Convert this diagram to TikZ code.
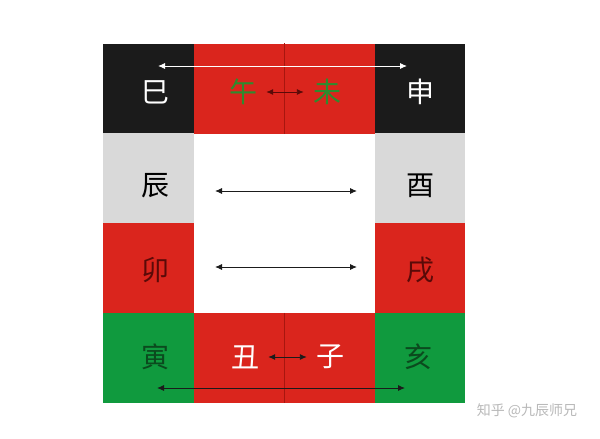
\documentclass[tikz,border=0pt]{standalone}
\usepackage{fontspec}
\newfontfamily\cjk{Noto Sans CJK SC}
\usetikzlibrary{arrows.meta}
\definecolor{cellred}{HTML}{DA251D}
\definecolor{cellgreen}{HTML}{109A3E}
\definecolor{cellgray}{HTML}{D9D9D9}
\definecolor{cellblack}{HTML}{1B1B1B}
\definecolor{leafgreen}{HTML}{2E8B2E}
\definecolor{darkgreen}{HTML}{0B4A1E}
\definecolor{darkred}{HTML}{5A0A08}
\definecolor{seamred}{HTML}{A8160F}
\tikzset{
  cell/.style={rectangle,inner sep=0pt,minimum width=90.5pt,minimum height=90pt},
  branch/.style={inner sep=0pt,font=\cjk\fontsize{28}{28}\selectfont},
  link/.style={{Latex[length=7pt,width=6pt]}-{Latex[length=7pt,width=6pt]},line width=0.9pt}
}
\begin{document}
\begin{tikzpicture}[x=1pt,y=-1pt]
  \useasboundingbox (0,0) rectangle (600,439);
  \fill [white] (0,0) rectangle (600,439);

  % cells
  \node [cell,fill=cellblack] (c-si) at (148.25,88.5) {};
  \node [cell,fill=cellred] (c-wu) at (238.75,88.5) {};
  \node [cell,fill=cellred] (c-wei) at (329.25,88.5) {};
  \node [cell,fill=cellblack] (c-shen) at (419.75,88.5) {};
  \node [cell,fill=cellgray] (c-chen) at (148.25,178) {};
  \node [cell,fill=cellgray] (c-you) at (419.75,178) {};
  \node [cell,fill=cellred] (c-mao) at (148.25,268) {};
  \node [cell,fill=cellred] (c-xu) at (419.75,268) {};
  \node [cell,fill=cellgreen] (c-yin) at (148.25,358) {};
  \node [cell,fill=cellred] (c-chou) at (238.75,358) {};
  \node [cell,fill=cellred] (c-zi) at (329.25,358) {};
  \node [cell,fill=cellgreen] (c-hai) at (419.75,358) {};
  \draw [seamred,line width=0.5pt] (c-wu.north east) -- (c-wu.south east);
  \draw [seamred,line width=0.5pt] (c-chou.north east) -- (c-chou.south east);

  % branches
  \node [branch,white] (si) at (155,92) {巳};
  \node [branch,leafgreen] (wu) at (243,92) {午};
  \node [branch,leafgreen] (wei) at (327,92) {未};
  \node [branch,white] (shen) at (420,92) {申};
  \node [branch,black] (chen) at (155,186) {辰};
  \node [branch,black] (you) at (420,186) {酉};
  \node [branch,darkred] (mao) at (155,270) {卯};
  \node [branch,darkred] (xu) at (420,270) {戌};
  \node [branch,darkgreen] (yin) at (155,357) {寅};
  \node [branch,white] (chou) at (245,357) {丑};
  \node [branch,white] (zi) at (330,357) {子};
  \node [branch,darkgreen] (hai) at (418,357) {亥};

  % links
  \coordinate (t-l) at (158,66);
  \coordinate (t-r) at (407,66);
  \coordinate (b-l) at (157,388);
  \coordinate (b-r) at (405,388);
  \coordinate (m1-l) at (215,191);
  \coordinate (m1-r) at (357,191);
  \coordinate (m2-l) at (215,267);
  \coordinate (m2-r) at (357,267);
  \draw [link,white] (t-l) -- (t-r);
  \draw [link,cellblack] (b-l) -- (b-r);
  \draw [link,cellblack] (m1-l) -- (m1-r);
  \draw [link,cellblack] (m2-l) -- (m2-r);
  \path (wu.east) ++(9,0) coordinate (wu-r) (wei.west) ++(-9,0) coordinate (wei-l);
  \path (chou.east) ++(9,0) coordinate (chou-r) (zi.west) ++(-9,0) coordinate (zi-l);
  \draw [link,darkred] (wu-r) -- (wei-l);
  \draw [link,cellblack] (chou-r) -- (zi-l);

  \node [gray!55,font=\cjk\fontsize{14}{14}\selectfont] (mark) at (527,411) {知乎 @九辰师兄};
\end{tikzpicture}
\end{document}
